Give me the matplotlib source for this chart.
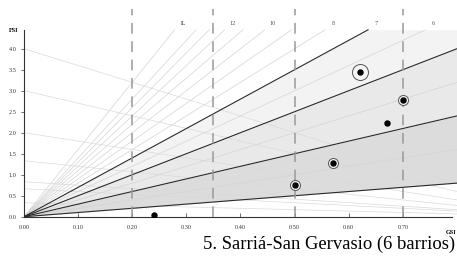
import numpy as np
import matplotlib.pyplot as plt

# Spacemate data (GSI vs FSI)
gsi = [0.62, 0.70, 0.67, 0.57, 0.50, 0.24]
fsi = [3.45, 2.79, 2.24, 1.28, 0.75, 0.03]
ring = [8, 5, 0, 5, 5, 0]  # ring radius around point (px), 0 = none

dark_layers = [1, 3, 5, 7]
light_layers = [2, 4, 6, 8, 9, 10, 11, 12, 13, 14, 16]
osr_values = [0.25, 0.333, 0.5, 0.75, 1.2, 1.5, 3.0]
labelled_layers = [12, 10, 8, 7, 6]
vlines = [0.20, 0.35, 0.50, 0.70]

plt.rcParams['font.family'] = 'Liberation Serif'

fig = plt.figure(figsize=(4.57, 2.60), dpi=100)
ax = fig.add_axes([0.0525, 0.1665, 0.9475, 0.7996])

xmax = 0.80
ytop = 4.45
ax.set_xlim(0, xmax)
ax.set_ylim(0, 4.95)

x = np.linspace(0, xmax, 200)

# shaded bands between dark layer lines
band_cols = ['#dcdcdc', '#e9e9e9', '#f3f3f3']
for (l1, l2), c in zip(zip(dark_layers[:-1], dark_layers[1:]), band_cols):
    ax.fill_between(x, np.minimum(l1 * x, ytop), np.minimum(l2 * x, ytop),
                    color=c, lw=0, zorder=1)

# OSR lines
for o in osr_values:
    ax.plot(x, np.clip((1 - x) / o, None, ytop), color='#dadada', lw=0.5, zorder=2)

# light layer lines
for L in light_layers:
    xe = min(ytop / L, xmax)
    ax.plot([0, xe], [0, L * xe], color='#d4d4d4', lw=0.5, zorder=2)

# dark layer lines
for L in dark_layers:
    xe = min(ytop / L, xmax)
    ax.plot([0, xe], [0, L * xe], color='#2a2a2a', lw=0.8, zorder=3)

# dashed vertical lines
for v in vlines:
    ax.plot([v, v], [0, 4.95], color='#999999', lw=1.1, ls=(0, (7, 5)), zorder=3)

# layer labels
ax.text(0.294, 4.61, 'L', fontsize=4.5, fontweight='bold', ha='center', va='center', color='#333333')
for L in labelled_layers:
    ax.text(ytop / L + 0.015, 4.61, str(L), fontsize=4.5, ha='center', va='center', color='#555555')

# points
for gx, fy, r in zip(gsi, fsi, ring):
    if r:
        ax.plot(gx, fy, 'o', ms=2 * r * 0.72, mfc='#f4f4f4', mec='#555555', mew=0.7, zorder=4)
    ax.plot(gx, fy, 'o', ms=3.6, color='black', zorder=5)

# axes styling
for s in ['top', 'right']:
    ax.spines[s].set_visible(False)
ax.spines['left'].set_bounds(0, ytop)
ax.spines['left'].set_color('#333333')
ax.spines['bottom'].set_color('#333333')
ax.spines['bottom'].set_bounds(0, 0.79)

ax.set_yticks(np.arange(0, 4.01, 0.5))
ax.set_yticklabels([f'{v:.1f}' for v in np.arange(0, 4.01, 0.5)])
ax.set_xticks(np.arange(0, 0.71, 0.1))
ax.set_xticklabels([f'{v:.2f}' for v in np.arange(0, 0.71, 0.1)])
ax.tick_params(axis='y', direction='out', length=2.5, width=0.5, labelsize=4.5,
               colors='#333333', pad=3)
ax.tick_params(axis='x', direction='in', length=3, width=0.5, labelsize=4.5,
               colors='#333333', pad=6)

fig.text(14 / 457, 1 - 30 / 260, 'FSI', fontsize=4.5, fontweight='bold', ha='center', va='center')
fig.text(456 / 457, 1 - 232 / 260, 'GSI', fontsize=4.5, fontweight='bold', ha='right', va='center')

fig.text(203 / 457, 1 - 244 / 260, '5. Sarriá-San Gervasio (6 barrios)', fontsize=13.4,
         ha='left', va='center')

fig.savefig('out.png', dpi=100)
